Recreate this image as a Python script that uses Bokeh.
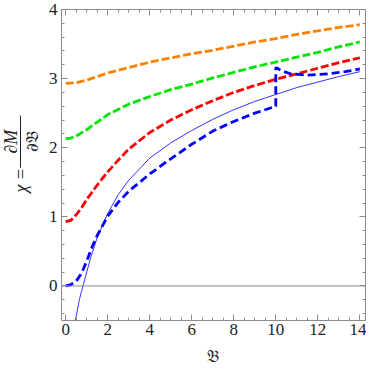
import numpy as np
from bokeh.plotting import figure
from bokeh.layouts import row, column
from bokeh.models import LinearAxis, Span, Range1d, FixedTicker
from bokeh.core.properties import value
from bokeh.embed import file_html
from bokeh.resources import INLINE

# ---- data ----
orange_x = [0, 0.5, 1, 1.5, 2, 3, 4, 5, 6, 7, 8, 9, 10, 11, 12, 13, 14]
orange_y = [2.93, 2.94, 2.98, 3.03, 3.08, 3.16, 3.24, 3.30, 3.36, 3.41, 3.47, 3.53, 3.58, 3.64, 3.69, 3.74, 3.78]

green_x = [0, 0.25, 0.5, 1, 1.5, 2, 3, 4, 5, 6, 7, 8, 9, 10, 11, 12, 13, 14]
green_y = [2.13, 2.14, 2.17, 2.26, 2.37, 2.48, 2.63, 2.74, 2.84, 2.92, 3.01, 3.09, 3.17, 3.24, 3.31, 3.38, 3.46, 3.53]

red_x = [0, 0.25, 0.5, 0.75, 1, 1.5, 2, 2.5, 3, 4, 5, 6, 7, 8, 9, 10, 11, 12, 13, 14]
red_y = [0.93, 0.95, 1.03, 1.13, 1.25, 1.46, 1.65, 1.82, 1.98, 2.22, 2.40, 2.55, 2.68, 2.80, 2.90, 2.99, 3.07, 3.15, 3.23, 3.30]

blue_x = [0, 0.25, 0.5, 0.75, 1, 1.25, 1.5, 2, 2.5, 3, 4, 5, 6, 7, 8, 9, 10, 10, 10.3, 10.7, 11.5, 12.5, 13.3, 14]
blue_y = [0.0, 0.02, 0.07, 0.18, 0.36, 0.56, 0.73, 1.01, 1.21, 1.37, 1.62, 1.84, 2.05, 2.24, 2.38, 2.50, 2.60, 3.16, 3.11, 3.07, 3.05, 3.07, 3.10, 3.14]

thin_x = [0.46, 0.55, 0.65, 0.75, 0.85, 1.0, 1.2, 1.5, 2, 2.5, 3, 4, 5, 6, 7, 8, 9, 10, 11, 12, 13, 14]
thin_y = [-0.5, -0.36, -0.2, -0.08, 0.03, 0.2, 0.42, 0.70, 1.05, 1.32, 1.53, 1.85, 2.07, 2.25, 2.41, 2.55, 2.67, 2.77, 2.87, 2.95, 3.03, 3.10]

x_ticks = [0, 2, 4, 6, 8, 10, 12, 14]
y_ticks = [0, 1, 2, 3, 4]
x_minor = [v / 2 for v in range(0, 29)]
y_minor = [round(-0.4 + 0.2 * i, 2) for i in range(23)]

x_title = "𝔅"
y_title_lhs = "χ ="
y_title_num = "∂M"
y_title_den = "∂𝔅"

GRAY = "#8c8c8c"
TXT = "#222222"
SERIF = "Liberation Serif"
MAIN_H = 346

p = figure(width=321, height=MAIN_H, output_backend="svg", toolbar_location=None,
           x_range=Range1d(-0.2, 14.27), y_range=Range1d(-0.5, 4.0),
           min_border_left=7, min_border_right=1, min_border_top=9, min_border_bottom=26,
           x_axis_type=None, y_axis_type=None)
p.background_fill_color = "white"
p.border_fill_color = "white"
p.outline_line_color = GRAY
p.outline_line_width = 1
p.xgrid.visible = False
p.ygrid.visible = False


def style_axis(ax, labels=True):
    ax.axis_line_color = None
    ax.major_tick_line_color = GRAY
    ax.minor_tick_line_color = GRAY
    ax.major_tick_in = 6
    ax.major_tick_out = 0
    ax.minor_tick_in = 3
    ax.minor_tick_out = 0
    if labels:
        ax.major_label_text_font = SERIF
        ax.major_label_text_font_size = "17px"
        ax.major_label_text_color = TXT
    else:
        ax.major_label_text_color = None
        ax.major_label_text_font_size = "1px"
        ax.major_label_standoff = 0


bx = LinearAxis(ticker=FixedTicker(ticks=x_ticks, minor_ticks=x_minor))
style_axis(bx)
bx.major_label_standoff = 3
p.add_layout(bx, "below")

ly = LinearAxis(ticker=FixedTicker(ticks=y_ticks, minor_ticks=y_minor))
style_axis(ly)
ly.major_label_standoff = 4
p.add_layout(ly, "left")

tx = LinearAxis(ticker=FixedTicker(ticks=x_ticks, minor_ticks=x_minor))
style_axis(tx, labels=False)
p.add_layout(tx, "above")
ry = LinearAxis(ticker=FixedTicker(ticks=y_ticks, minor_ticks=y_minor))
style_axis(ry, labels=False)
p.add_layout(ry, "right")

p.add_layout(Span(location=0, dimension="width", line_color=GRAY, line_width=1))

# curves
p.line(thin_x, thin_y, line_color="#3333ff", line_width=1)
p.line(orange_x, orange_y, line_color="#ff8000", line_width=2.8, line_dash="8 3")
p.line(green_x, green_y, line_color="#00e600", line_width=2.8, line_dash="8 3")
p.line(red_x, red_y, line_color="#ff0000", line_width=2.8, line_dash="8 3")
p.line(blue_x, blue_y, line_color="#0000ff", line_width=2.8, line_dash="8 4")

# ---- y-axis title panel: chi = dM / dB (rotated) ----
lf = figure(width=45, height=MAIN_H, output_backend="svg", toolbar_location=None,
            x_range=Range1d(0, 45), y_range=Range1d(MAIN_H, 0),
            min_border=0, x_axis_type=None, y_axis_type=None)
lf.outline_line_color = None
lf.xgrid.visible = False
lf.ygrid.visible = False
ang = np.pi / 2
lf.text(x=[20], y=[190], text=[y_title_lhs], angle=ang, text_align="center",
        text_baseline="middle", text_font=value(SERIF), text_font_size="18px",
        text_font_style="italic", text_color=TXT)
lf.text(x=[10.5], y=[147], text=[y_title_num], angle=ang, text_align="center",
        text_baseline="middle", text_font=value(SERIF), text_font_size="18px",
        text_font_style="italic", text_color=TXT)
lf.text(x=[31], y=[147], text=[y_title_den], angle=ang, text_align="center",
        text_baseline="middle", text_font=value("DejaVu Serif"), text_font_size="17px",
        text_color=TXT)
lf.segment(x0=[20], y0=[118], x1=[20], y1=[176], line_color=TXT, line_width=1)

# ---- x-axis title strip ----
bf = figure(width=366, height=18, output_backend="svg", toolbar_location=None,
            x_range=Range1d(0, 366), y_range=Range1d(0, 18),
            min_border=0, x_axis_type=None, y_axis_type=None)
bf.outline_line_color = None
bf.xgrid.visible = False
bf.ygrid.visible = False
bf.text(x=[212], y=[9], text=[x_title], text_align="center", text_baseline="middle",
        text_font=value("DejaVu Serif"), text_font_size="17px", text_color=TXT)

layout = column(row(lf, p, spacing=0), bf, spacing=0)
open("out.html", "w").write(file_html(layout, INLINE))
